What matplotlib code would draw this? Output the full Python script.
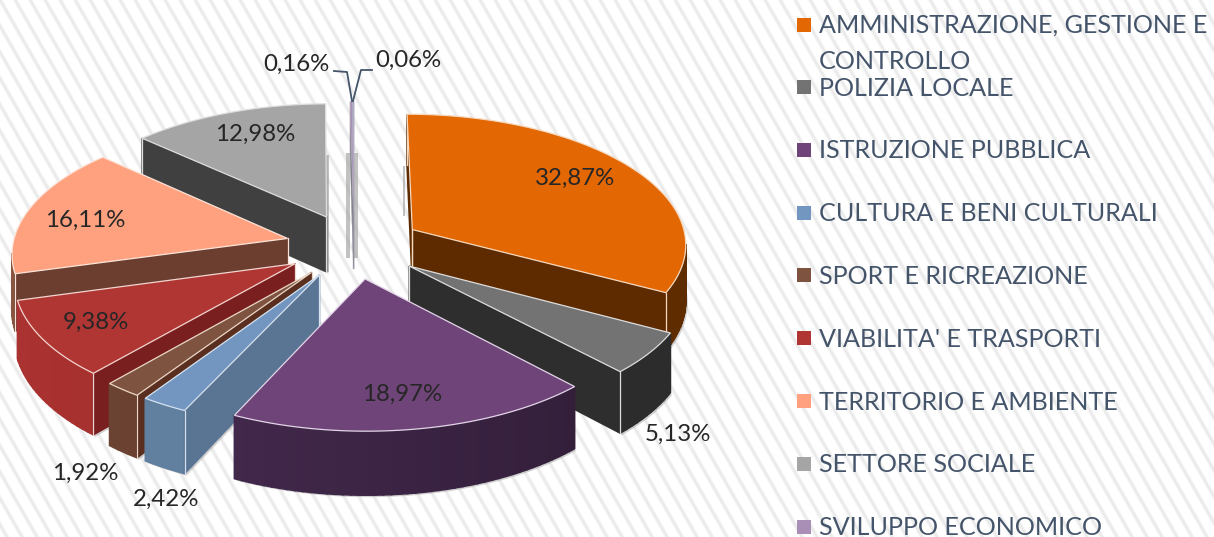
import numpy as np
import matplotlib
matplotlib.use('Agg')
import matplotlib.pyplot as plt
from matplotlib.patches import Polygon, Rectangle

plt.rcParams['font.family'] = ['Lato', 'DejaVu Sans']

# data
values = [32.87, 5.13, 18.97, 2.42, 1.92, 9.38, 16.11, 12.98, 0.16, 0.06]
legend_names = ['AMMINISTRAZIONE, GESTIONE E\nCONTROLLO', 'POLIZIA LOCALE', 'ISTRUZIONE PUBBLICA',
                'CULTURA E BENI CULTURALI', 'SPORT E RICREAZIONE', "VIABILITA' E TRASPORTI",
                'TERRITORIO E AMBIENTE', 'SETTORE SOCIALE', 'SVILUPPO ECONOMICO']
top_colors = ['#E36702', '#737373', '#6F4478', '#7396C0', '#7E5441', '#B03634', '#FFA17E', '#A5A5A5', '#A98FB5', '#8FA9C8']
wall_colors = ['#5E2B00', '#2E2E2E', '#2C1A33', '#5A7493', '#5B2F20', '#7A1F20', '#6B3E30', '#404040', '#808088', '#808088']
rim_left = ['#6E3800', '#333333', '#4E3058', '#62809F', '#6E4534', '#AC3331', '#8A5540', '#555555', '#808088', '#808088']
rim_right = ['#5E2B00', '#2B2B2B', '#2C1A33', '#5F7C9E', '#60392A', '#8A2523', '#6B3E30', '#404040', '#808088', '#808088']
edge_colors = ['#F6D9BF', '#DDDDDD', '#E3D5E8', '#D5E2F0', '#EAD8C8', '#F3D5D0', '#FBE3D8', '#DDDDDD', '#B8B0C4', '#B8B0C4']

# where the value labels sit (pixels)
label_x = [575, 678, 402, 166, 85, 96, 85, 255, 296, 408]
label_y = [178, 434, 394, 499, 473, 322, 220, 134, 64, 60]

# pie geometry
cx, cy = 354, 246
rx, ry = 275, 130
persp = 0.1
explode = 0.25
depth = 56


# plane coords -> screen pixels
def project(u, v, bottom=False):
    w = 1 - persp * v
    x = cx + rx * u / w
    y = cy + ry * v / w
    if bottom:
        y = y + depth / w
    return x, y


# signed area tells which way a wall is facing
def facing(pts):
    pts = np.array(pts)
    x, y = pts[:, 0], pts[:, 1]
    return np.sum(x * np.roll(y, -1) - np.roll(x, -1) * y)


def draw_wall(ax, a, b, color, edge, z, lw=1.2):
    quad = [project(*a), project(*b), project(*b, bottom=True), project(*a, bottom=True)]
    if facing(quad) < 0:
        ax.add_patch(Polygon(quad, closed=True, fc=color, ec=color, lw=lw, zorder=z))
        if edge:
            ax.plot(*zip(quad[0], quad[3]), color=edge, lw=min(lw, 0.9), zorder=z + 0.05)
            ax.plot(*zip(quad[1], quad[2]), color=edge, lw=min(lw, 0.9), zorder=z + 0.05)


def mix(c1, c2, t):
    a = np.array(matplotlib.colors.to_rgb(c1))
    b = np.array(matplotlib.colors.to_rgb(c2))
    return tuple(a + (b - a) * t)


def draw_wedge(ax, start, stop, i, z):
    mid = (start + stop) / 2
    apex = np.array([explode * np.sin(mid), -explode * np.cos(mid)])
    angles = np.linspace(start, stop, max(int((stop - start) * 40), 2))
    arc = [apex + [np.sin(t), -np.cos(t)] for t in angles]
    tiny = values[i] < 1
    lw = 0.3 if tiny else 1.2

    # soft shadow under the slice
    bottom_pts = [project(*apex, bottom=True)] + [project(*p, bottom=True) for p in arc]
    top_pts = [project(*apex)] + [project(*p) for p in arc]
    if not tiny:
        sh = np.array(bottom_pts) + [2, 2]
        ax.add_patch(Polygon(sh, closed=True, fc='#999999', ec='none', alpha=0.45, zorder=z - 0.01))

    # rim first, the cut walls go over its seams
    for j in range(len(arc) - 1):
        t = (arc[j][0] + 1.3) / 2.6
        draw_wall(ax, arc[j], arc[j + 1], mix(rim_left[i], rim_right[i], min(max(t, 0), 1)), None, z, lw)
    draw_wall(ax, apex, arc[0], wall_colors[i], edge_colors[i], z + 0.01, lw)
    draw_wall(ax, arc[-1], apex, wall_colors[i], edge_colors[i], z + 0.011, lw)

    ax.add_patch(Polygon(top_pts, closed=True, fc=top_colors[i], ec=edge_colors[i],
                         lw=0.3 if tiny else 0.9, zorder=z + 0.1))


fig = plt.figure(figsize=(12.14, 5.37), dpi=100)
ax = fig.add_axes([0, 0, 1, 1])
ax.set_xlim(0, 1214)
ax.set_ylim(537, 0)
ax.axis('off')

# striped paper behind everything
yy, xx = np.mgrid[0:537, 0:1214]
phase = (xx - yy / 1.75) / 15.0
stripes = np.clip(np.cos(2 * np.pi * phase), 0, 1) ** 2
ax.imshow(1 - 0.085 * stripes, cmap='gray', vmin=0, vmax=1, extent=(0, 1214, 537, 0), aspect='auto', zorder=0)

# grey shadow bars next to the back slices
for sx, sy, sw, sh in [(346, 153, 4, 105), (354, 153, 4, 105), (326, 155, 3, 117), (403, 166, 2, 50)]:
    ax.add_patch(Rectangle((sx, sy), sw, sh, fc='#A8A8A8', ec='none', alpha=0.7, zorder=0.5))

# slices, far ones first
edges = np.cumsum([0] + values) / 100 * 2 * np.pi
mids = (edges[:-1] + edges[1:]) / 2
order = np.argsort(-np.cos(mids))
for n, i in enumerate(order):
    draw_wedge(ax, edges[i], edges[i + 1], i, 1 + n)

# value labels
for i, val in enumerate(values):
    ax.text(label_x[i], label_y[i], f'{val:.2f}%'.replace('.', ','), fontsize=17.3, color='#262626',
            ha='center', va='center', zorder=30)

# leader lines for the two tiny slices
ax.plot([334, 347, 352], [71, 72, 101], color='#44546A', lw=1.3, zorder=30)
ax.plot([372, 361, 353], [70, 70, 101], color='#44546A', lw=1.3, zorder=30)

# legend
for i, name in enumerate(legend_names):
    row = 87 + (i - 1) * 62.8 if i > 0 else 25
    ax.add_patch(Rectangle((797, row - 7), 14, 14, fc=top_colors[i], ec='none', zorder=30))
    ax.text(819, row - 11 if i == 0 else row + 1, name, fontsize=18.1, color='#44546A', ha='left',
            va='top' if i == 0 else 'center', linespacing=1.7, zorder=30)

fig.savefig('out.png', dpi=100)
